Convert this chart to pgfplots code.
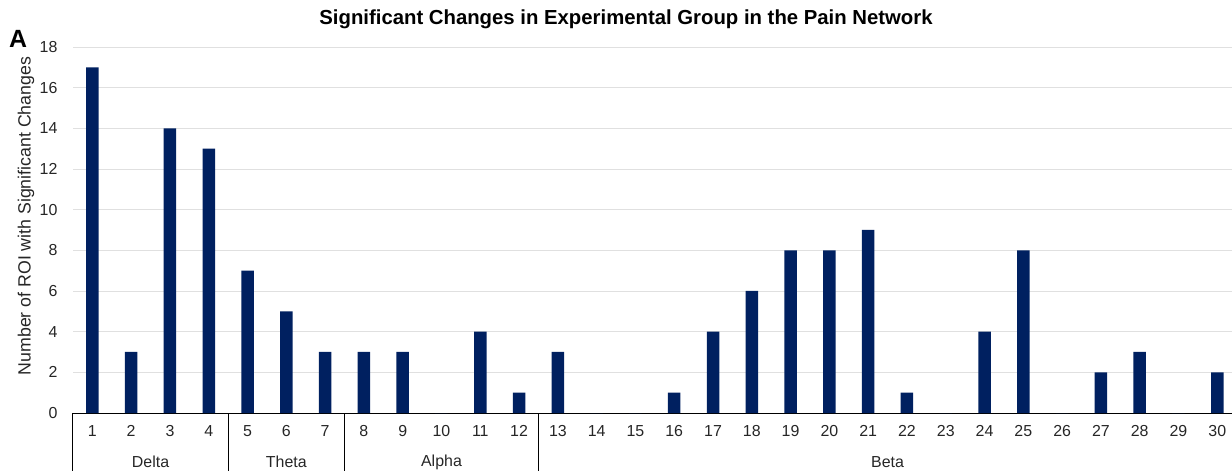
\documentclass[border=0pt]{standalone}
\usepackage{fontspec}
\setmainfont{Liberation Sans}
\usepackage{pgfplots}
\pgfplotsset{compat=1.18}
\definecolor{barblue}{HTML}{002060}
\definecolor{gridgray}{HTML}{E0E0E0}
\pgfplotstableread{
x y
1 17
2 3
3 14
4 13
5 7
6 5
7 3
8 3
9 3
10 0
11 4
12 1
13 3
14 0
15 0
16 1
17 4
18 6
19 8
20 8
21 9
22 1
23 0
24 4
25 8
26 0
27 2
28 3
29 0
30 2
}\datatable
\begin{document}
\begin{tikzpicture}
\path[use as bounding box] (-73bp,-58bp) rectangle (1159bp,413bp);
\begin{axis}[at={(0,0)}, anchor=south west, scale only axis,
  width=1159bp, height=366bp,
  xmin=0.5, xmax=30.38, ymin=0, ymax=18,
  ytick={0,2,...,18}, xtick={1,...,30},
  ymajorgrids, grid style={gridgray, line width=0.8bp},
  axis x line*=bottom, axis y line*=left,
  y axis line style={draw=none},
  x axis line style={black, line width=1bp, -},
  major tick length=0,
  tick label style={font=\fontsize{16}{19}\selectfont, text=black!85},
  /pgf/number format/assume math mode=true,
  xticklabel style={yshift=-9bp},
  yticklabel style={xshift=-12bp},
  ylabel={Number of ROI with Significant Changes},
  ylabel style={at={(axis description cs:-0.0405,0.538)}, anchor=center, font=\fontsize{17.8}{20}\selectfont, text=black!85},
  clip=false,
]
\addplot[ybar, bar width=12.5bp, fill=barblue, draw=none] table[x=x, y=y] {\datatable};
\foreach \s in {0.5,4.5,7.5,12.5} {
  \edef\temp{\noexpand\draw[black, line width=1bp] (axis cs:\s,0) -- ([yshift=-58bp]axis cs:\s,0);}
  \temp
}
\node[font=\fontsize{16}{18}\selectfont, text=black!85] at ([yshift=-49bp]axis cs:2.5,0) {Delta};
\node[font=\fontsize{16}{18}\selectfont, text=black!85] at ([yshift=-49bp]axis cs:6,0) {Theta};
\node[font=\fontsize{16}{18}\selectfont, text=black!85] at ([yshift=-49bp]axis cs:10,0) {Alpha};
\node[font=\fontsize{16}{18}\selectfont, text=black!85] at ([yshift=-49bp]axis cs:21.5,0) {Beta};
\end{axis}
\node[font=\fontsize{20.4}{24}\bfseries\selectfont] at (553bp,394bp) {Significant Changes in Experimental Group in the Pain Network};
\node[font=\fontsize{25}{30}\bfseries\selectfont] at (-55bp,374bp) {A};
\end{tikzpicture}
\end{document}
